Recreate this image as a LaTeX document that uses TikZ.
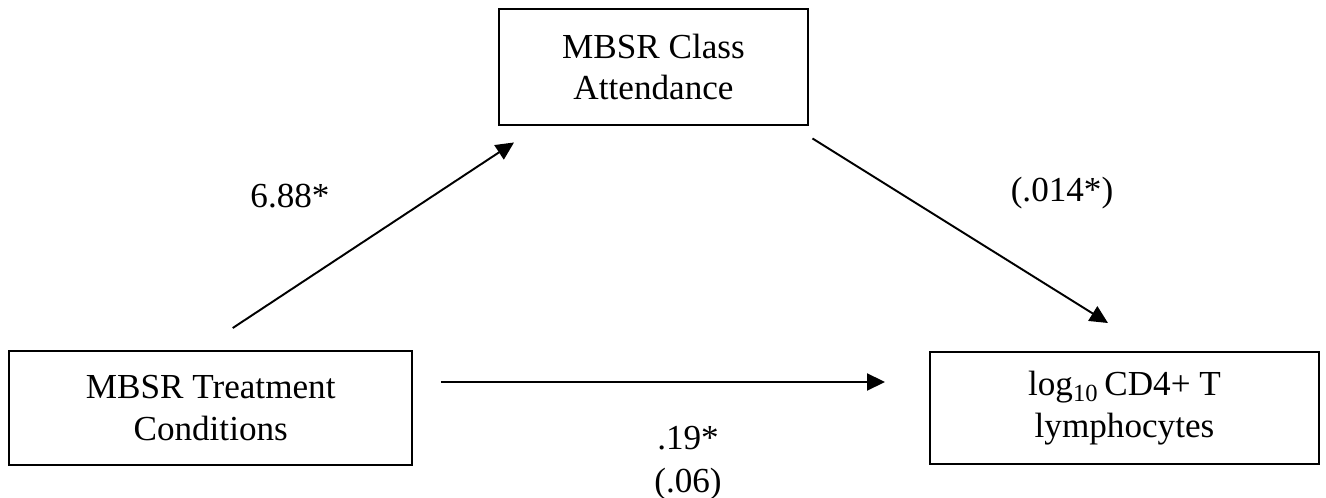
\documentclass[tikz,border=0pt]{standalone}
\usepackage{fontspec}
\setmainfont{Liberation Serif}
\usepackage{tikz}
\usetikzlibrary{arrows,arrows.meta}

\tikzset{
	varbox/.style = {draw, line width=1.1pt, inner sep=0pt, align=center, font=\fontsize{20}{23.5}\selectfont},
	effect/.style = {line width=1.1pt, -{Triangle[length=0.36cm, width=0.34cm]}},
	coef/.style = {inner sep=0pt, align=center, font=\fontsize{20}{24.5}\selectfont}
}

\begin{document}
\begin{tikzpicture}
	\useasboundingbox (0,0) rectangle (26.52,9.96);
	
	% variables
	\node[varbox, minimum width=8.05cm, minimum height=2.28cm] (treat) at (4.214,1.80) {MBSR Treatment\\Conditions};
	\node[varbox, minimum width=6.18cm, minimum height=2.32cm] (class) at (13.07,8.62) {MBSR Class\\Attendance};
	\node[varbox, minimum width=7.78cm, minimum height=2.24cm] (cd4) at (22.49,1.80) {log\textsubscript{10}\,CD4+ T\\lymphocytes};
	
	% paths
	\draw[effect] ([xshift=0.44cm, yshift=0.44cm]treat.north) -- ([xshift=0.32cm, yshift=-0.33cm]class.south west);
	\draw[effect] ([xshift=0.07cm, yshift=-0.25cm]class.south east) -- ([xshift=-0.33cm, yshift=0.56cm]cd4.north);
	\draw[effect] ([xshift=0.56cm, yshift=0.52cm]treat.east) -- ([xshift=-0.88cm, yshift=0.52cm]cd4.west);
	
	% coefficients
	\node[coef, anchor=base] (a) at (5.80,5.80) {6.88*};
	\node[coef, anchor=base] (b) at (21.24,5.92) {(.014*)};
	\node[coef, anchor=north] (c) at (13.76,1.436) {.19*\\(.06)};
	
\end{tikzpicture}
\end{document}
